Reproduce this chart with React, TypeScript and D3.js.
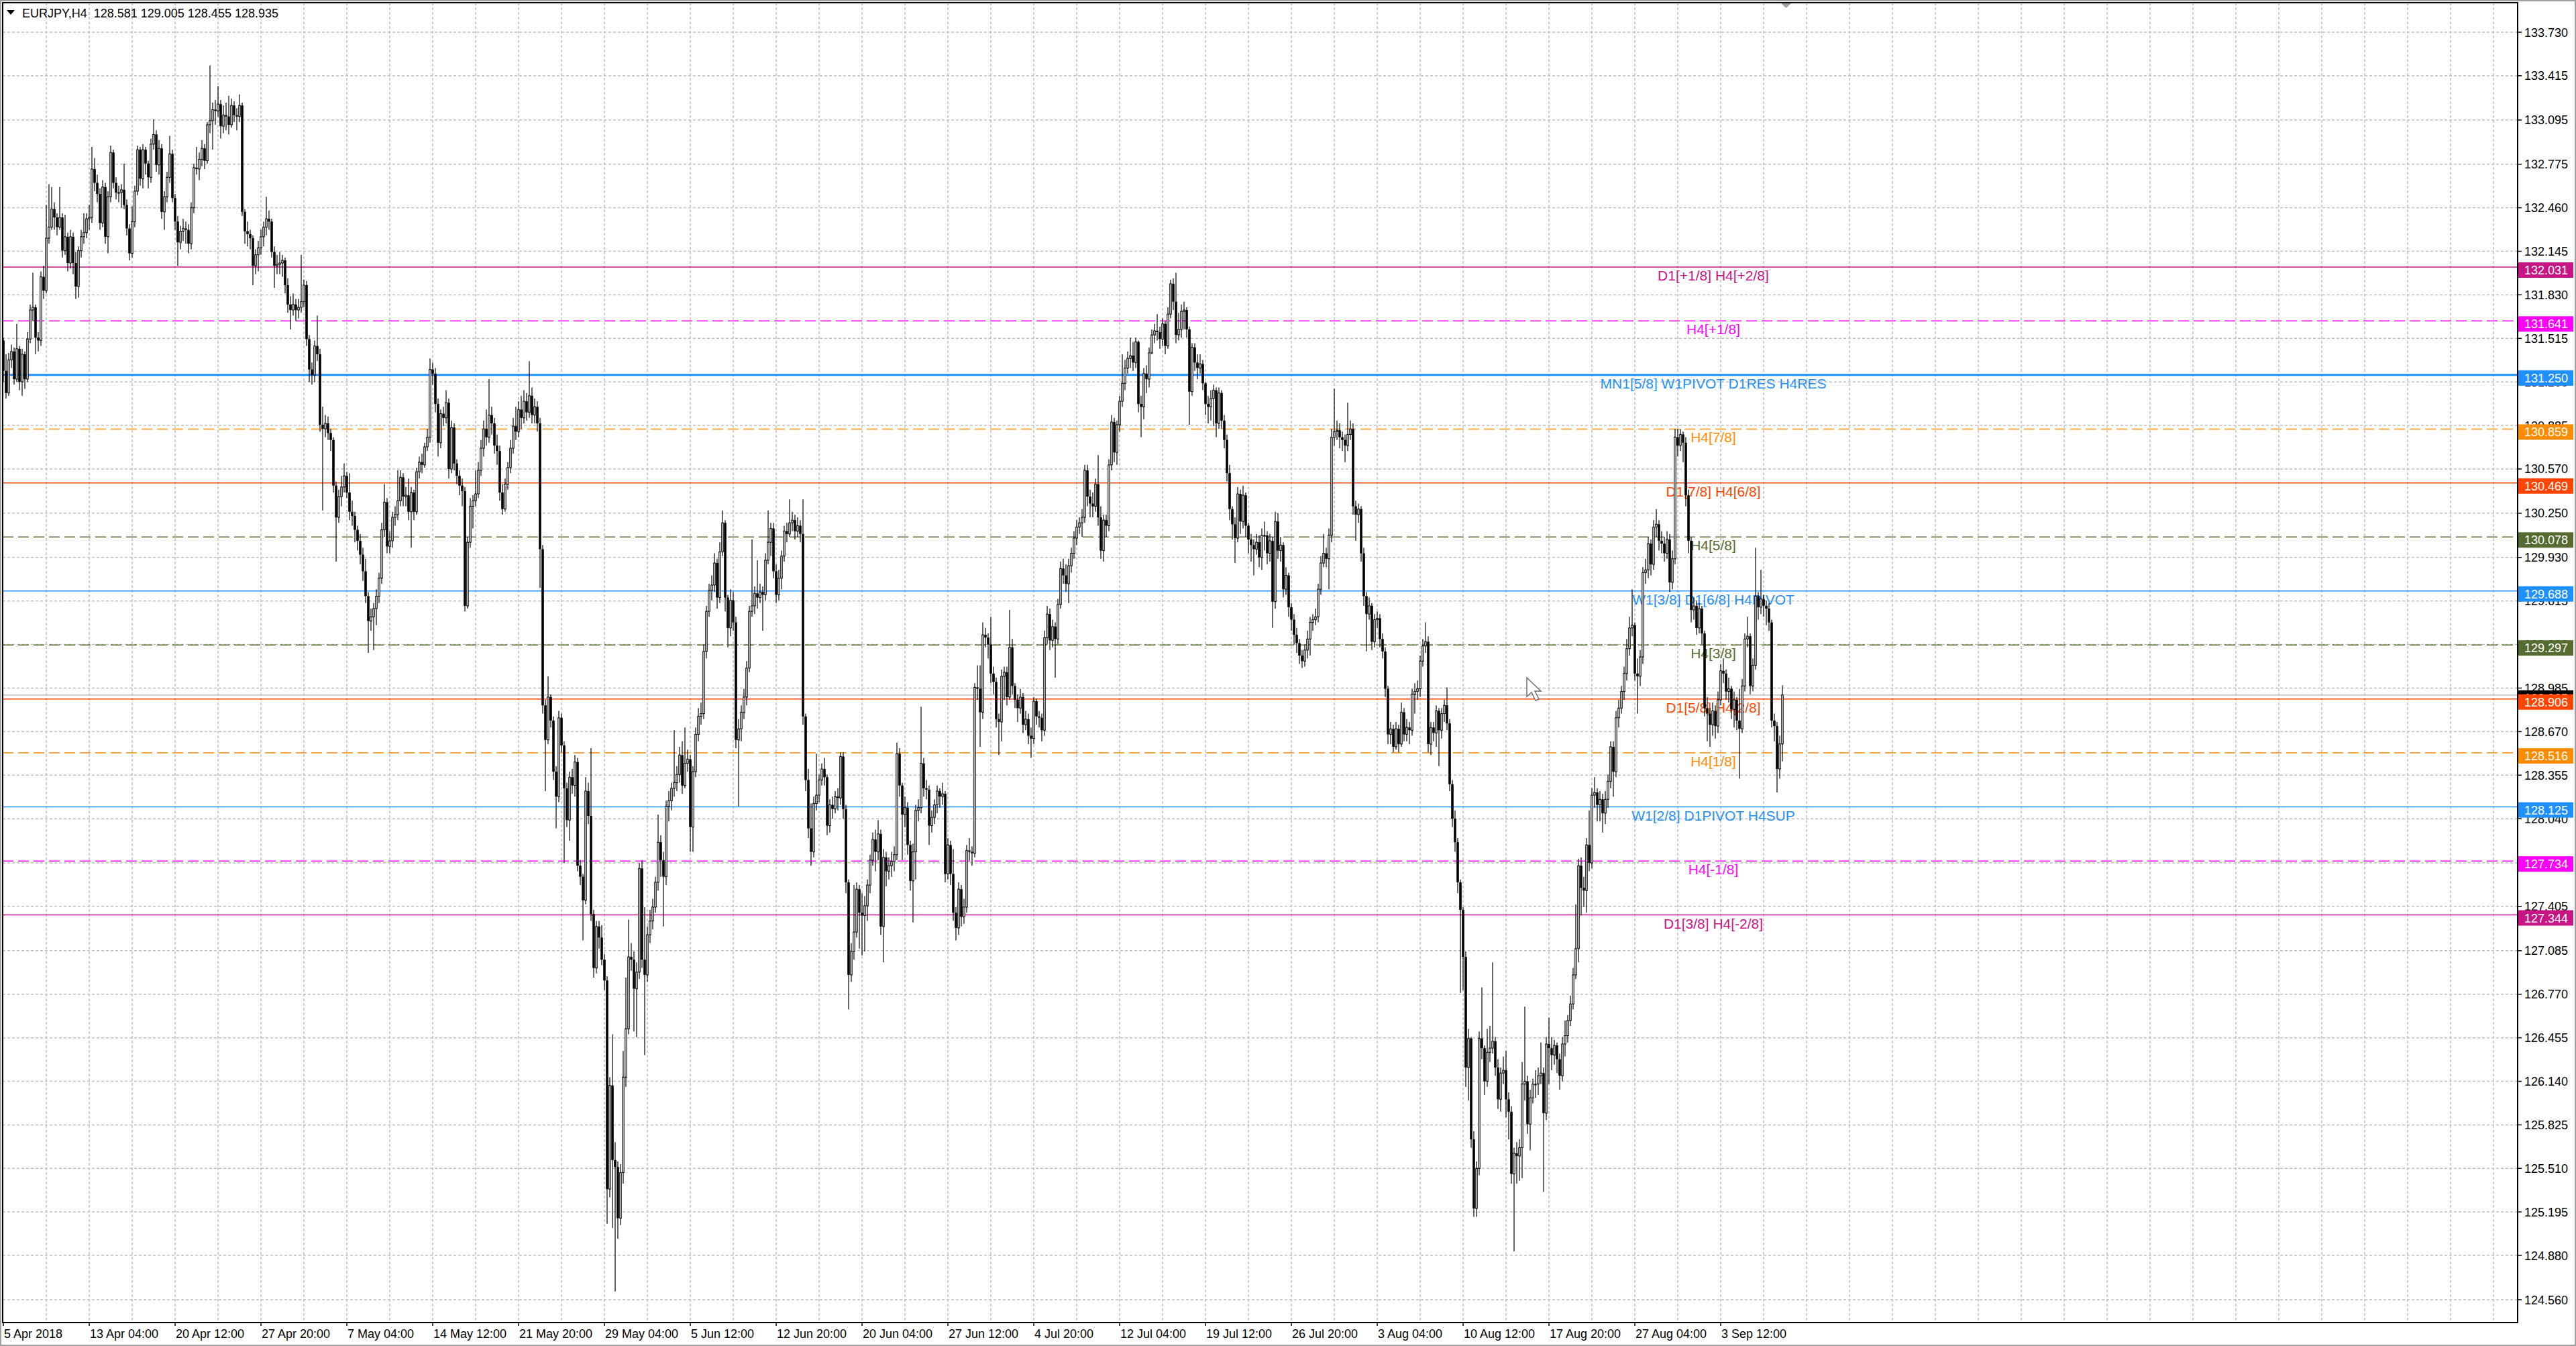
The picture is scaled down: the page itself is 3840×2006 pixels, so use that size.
import * as d3 from "d3";

// first bar open; every later bar opens at the previous close
const FIRST_OPEN = 131.5;

// [close, high, low] per H4 bar, 5 Apr 2018 20:00 onward
const BARS: [number, number, number][] = [
  // 0 - 5 Apr 20:00
  [131.28, 131.52, 131.2], [131.12, 131.4, 131.08], [131.36, 131.41, 131.1], [131.42, 131.47, 131.3],
  [131.22, 131.45, 131.18], [131.44, 131.62, 131.2], [131.2, 131.46, 131.14], [131.4, 131.44, 131.1],
  [131.22, 131.42, 131.15], [131.51, 131.56, 131.2], [131.72, 131.76, 131.48], [131.74, 131.99, 131.64],
  [131.52, 131.76, 131.4], [131.5, 131.56, 131.42], [131.96, 132.0, 131.46], [131.86, 132.04, 131.8],
  [132.24, 132.48, 131.84], [132.32, 132.63, 132.2], [132.45, 132.61, 132.3], [132.39, 132.5, 132.3],
  [132.32, 132.42, 132.26], [132.39, 132.61, 132.3], [132.15, 132.42, 132.1], [132.25, 132.41, 132.12],
  [132.06, 132.28, 132.0], [132.25, 132.3, 132.02], [132.06, 132.28, 131.98], [131.89, 132.14, 131.8],
  [132.15, 132.18, 131.81], [132.25, 132.3, 132.1], [132.28, 132.42, 132.2], [132.38, 132.42, 132.24],
  // 32 - 13 Apr 04:00
  [132.39, 132.48, 132.3], [132.74, 132.9, 132.35], [132.64, 132.82, 132.58], [132.56, 132.7, 132.5],
  [132.35, 132.6, 132.3], [132.61, 132.66, 132.32], [132.25, 132.64, 132.2], [132.54, 132.58, 132.13],
  [132.86, 132.91, 132.5], [132.64, 132.88, 132.6], [132.57, 132.68, 132.52], [132.57, 132.62, 132.5],
  [132.59, 132.63, 132.46], [132.48, 132.78, 132.45], [132.31, 132.52, 132.26], [132.13, 132.34, 132.08],
  [132.36, 132.47, 132.1], [132.58, 132.62, 132.32], [132.88, 132.91, 132.55], [132.67, 132.9, 132.62],
  [132.88, 132.92, 132.6], [132.78, 132.9, 132.7], [132.68, 132.8, 132.6], [132.92, 132.96, 132.64],
  [132.99, 133.1, 132.88], [132.77, 133.02, 132.72], [132.89, 132.95, 132.7], [132.43, 132.92, 132.38],
  [132.54, 132.58, 132.3], [132.68, 132.72, 132.5], [132.85, 132.98, 132.64], [132.53, 132.88, 132.5],
  // 64 - 20 Apr 12:00
  [132.36, 132.56, 132.3], [132.21, 132.4, 132.04], [132.29, 132.33, 132.16], [132.31, 132.38, 132.22],
  [132.3, 132.36, 132.2], [132.2, 132.34, 132.13], [132.46, 132.5, 132.16], [132.75, 132.78, 132.42],
  [132.74, 132.9, 132.7], [132.81, 132.86, 132.66], [132.89, 132.95, 132.76], [132.8, 132.92, 132.74],
  [133.06, 133.08, 132.78], [133.09, 133.49, 133.0], [133.17, 133.22, 132.88], [133.16, 133.24, 133.06],
  [133.21, 133.34, 133.12], [133.05, 133.24, 132.96], [133.13, 133.2, 133.0], [133.12, 133.22, 133.02],
  [133.06, 133.27, 132.99], [133.2, 133.25, 133.04], [133.13, 133.23, 133.08], [133.12, 133.18, 133.02],
  [133.2, 133.28, 133.08], [132.43, 133.22, 132.4], [132.29, 132.45, 132.2], [132.27, 132.36, 132.18],
  [132.24, 132.3, 132.16], [132.04, 132.26, 131.9], [132.12, 132.16, 131.98], [132.17, 132.22, 132.0],
  // 96 - 27 Apr 20:00
  [132.25, 132.3, 132.12], [132.32, 132.36, 132.18], [132.38, 132.54, 132.26], [132.36, 132.44, 132.3],
  [132.14, 132.38, 132.1], [132.04, 132.18, 131.88], [132.05, 132.12, 131.98], [132.06, 132.14, 131.98],
  [132.08, 132.12, 131.96], [131.9, 132.1, 131.84], [131.76, 131.95, 131.7], [131.72, 131.82, 131.58],
  [131.76, 131.84, 131.68], [131.72, 131.8, 131.64], [131.74, 131.8, 131.66], [131.78, 132.12, 131.7],
  [131.9, 131.94, 131.74], [131.51, 131.93, 131.46], [131.29, 131.54, 131.2], [131.25, 131.34, 131.18],
  [131.46, 131.5, 131.2], [131.4, 131.68, 131.35], [130.89, 131.44, 130.84], [130.86, 131.02, 130.27],
  [130.9, 130.96, 130.8], [130.83, 130.95, 130.78], [130.78, 130.86, 130.7], [130.45, 130.8, 130.4],
  [130.22, 130.48, 129.9], [130.37, 130.42, 130.18], [130.44, 130.52, 130.3], [130.52, 130.61, 130.4],
  // 128 - 7 May 04:00
  [130.4, 130.55, 130.36], [130.26, 130.54, 130.2], [130.23, 130.34, 130.16], [130.13, 130.26, 130.04],
  [130.05, 130.16, 129.98], [129.95, 130.1, 129.88], [129.83, 130.0, 129.76], [129.65, 129.92, 129.6],
  [129.47, 129.68, 129.24], [129.5, 129.56, 129.4], [129.56, 129.6, 129.26], [129.65, 129.7, 129.44],
  [129.78, 129.82, 129.6], [130.13, 130.18, 129.74], [130.33, 130.46, 130.08], [130.01, 130.36, 129.96],
  [130.05, 130.12, 129.96], [130.22, 130.26, 130.0], [130.24, 130.3, 130.16], [130.34, 130.56, 130.2],
  [130.51, 130.56, 130.3], [130.37, 130.54, 130.3], [130.38, 130.44, 130.3], [130.26, 130.5, 130.2],
  [130.4, 130.44, 130.0], [130.26, 130.42, 130.2], [130.55, 130.58, 130.24], [130.62, 130.66, 130.5],
  [130.6, 130.68, 130.54], [130.73, 130.76, 130.58], [130.8, 130.86, 130.7], [131.29, 131.37, 130.76],
  // 160 - 14 May 12:00
  [131.26, 131.34, 131.18], [131.04, 131.3, 130.98], [130.76, 131.08, 130.66], [130.97, 131.0, 130.72],
  [130.94, 131.02, 130.88], [131.05, 131.14, 130.9], [130.57, 131.08, 130.5], [130.87, 130.92, 130.54],
  [130.61, 130.9, 130.56], [130.52, 130.64, 130.46], [130.45, 130.56, 130.38], [130.41, 130.5, 130.3],
  [129.58, 130.44, 129.54], [130.04, 130.08, 129.56], [130.3, 130.36, 130.0], [130.34, 130.38, 130.14],
  [130.39, 130.56, 130.3], [130.56, 130.62, 130.36], [130.72, 130.78, 130.52], [130.86, 130.92, 130.66],
  [130.8, 131.0, 130.74], [130.96, 131.22, 130.76], [130.9, 131.02, 130.82], [130.74, 130.94, 130.68],
  [130.7, 130.82, 130.6], [130.4, 130.74, 130.34], [130.28, 130.46, 130.24], [130.46, 130.5, 130.26],
  [130.58, 130.62, 130.42], [130.72, 130.78, 130.54], [130.88, 130.94, 130.68], [130.84, 131.02, 130.78],
  // 192 - 21 May 20:00
  [131.0, 131.06, 130.8], [130.94, 131.1, 130.86], [131.06, 131.14, 130.9], [130.98, 131.12, 130.92],
  [131.1, 131.35, 130.94], [130.96, 131.16, 130.9], [131.02, 131.08, 130.9], [130.9, 131.06, 130.84],
  [129.99, 130.94, 129.71], [128.86, 130.02, 128.8], [128.61, 128.9, 128.24], [128.92, 129.07, 128.58],
  [128.75, 128.94, 128.7], [128.38, 128.78, 128.32], [128.2, 128.42, 127.97], [128.77, 128.82, 128.16],
  [128.57, 128.8, 128.52], [128.26, 128.6, 127.72], [128.03, 128.3, 127.98], [128.34, 128.38, 127.88],
  [128.28, 128.4, 128.22], [128.45, 128.5, 128.2], [127.7, 128.48, 127.66], [127.62, 127.74, 127.56],
  [127.45, 127.64, 127.16], [128.24, 128.34, 127.42], [128.06, 128.3, 128.0], [127.35, 128.55, 127.3],
  [126.96, 127.38, 126.89], [127.26, 127.3, 126.92], [127.18, 127.3, 127.1], [127.02, 127.27, 126.98],
  // 224 - 29 May 04:00
  [126.87, 127.06, 126.8], [125.36, 126.9, 125.11], [126.11, 126.17, 125.3], [125.57, 126.48, 125.08],
  [125.52, 125.7, 124.62], [125.15, 125.56, 125.0], [125.48, 125.54, 125.1], [126.17, 126.36, 125.4],
  [126.52, 126.89, 126.1], [127.04, 127.31, 126.48], [127.02, 127.14, 126.94], [126.81, 127.08, 126.5],
  [126.93, 127.0, 126.46], [127.68, 127.72, 126.88], [127.02, 127.74, 126.96], [126.91, 127.4, 126.33],
  [127.2, 127.26, 126.86], [127.3, 127.38, 127.14], [127.4, 127.46, 127.24], [127.58, 127.62, 127.36],
  [127.87, 128.07, 127.52], [127.74, 127.92, 127.62], [127.62, 127.8, 127.26], [128.13, 128.17, 127.56],
  [128.17, 128.24, 128.02], [128.26, 128.3, 128.1], [128.3, 128.68, 128.2], [128.36, 128.42, 128.24],
  [128.5, 128.56, 128.3], [128.28, 128.6, 128.22], [128.44, 128.7, 128.26], [128.47, 128.54, 128.38],
  // 256 - 5 Jun 12:00
  [127.98, 128.5, 127.8], [128.38, 128.42, 127.8], [128.65, 128.7, 128.34], [128.78, 128.84, 128.6],
  [128.8, 128.88, 128.72], [129.25, 129.3, 128.76], [129.54, 129.58, 129.2], [129.69, 129.74, 129.5],
  [129.73, 129.8, 129.62], [129.89, 129.96, 129.68], [129.64, 129.92, 129.56], [129.97, 130.04, 129.6],
  [130.18, 130.27, 129.94], [129.64, 130.2, 129.54], [129.42, 129.66, 129.28], [129.62, 129.7, 129.36],
  [129.46, 129.68, 129.4], [128.61, 129.5, 128.55], [128.69, 128.76, 128.13], [128.81, 128.86, 128.6],
  [128.92, 128.98, 128.76], [129.13, 129.18, 128.86], [129.54, 129.58, 129.1], [129.58, 130.06, 129.5],
  [129.67, 129.72, 129.52], [129.64, 129.91, 129.56], [129.68, 129.74, 129.6], [129.66, 129.72, 129.4],
  [129.91, 129.96, 129.62], [130.04, 130.27, 129.88], [130.14, 130.18, 129.94], [129.83, 130.18, 129.78],
  // 288 - 12 Jun 20:00
  [129.66, 129.88, 129.6], [129.78, 129.84, 129.62], [129.94, 129.98, 129.7], [130.12, 130.16, 129.9],
  [130.1, 130.18, 130.04], [130.18, 130.35, 130.08], [130.2, 130.26, 130.12], [130.12, 130.24, 130.06],
  [130.16, 130.22, 130.08], [130.1, 130.2, 130.04], [128.78, 130.35, 128.72], [128.32, 128.8, 128.24],
  [127.97, 128.4, 127.9], [127.8, 128.15, 127.7], [128.15, 128.2, 127.76], [128.21, 128.51, 128.1],
  [128.32, 128.36, 128.16], [128.4, 128.44, 128.28], [128.34, 128.48, 128.28], [127.99, 128.36, 127.92],
  [128.14, 128.18, 127.94], [128.11, 128.2, 128.04], [128.2, 128.24, 128.08], [128.19, 128.26, 128.1],
  [128.49, 128.52, 128.14], [128.11, 128.52, 128.04], [127.58, 128.14, 127.5], [126.91, 127.6, 126.66],
  [127.08, 127.14, 126.86], [127.22, 127.56, 127.02], [127.53, 127.58, 127.18], [127.36, 127.56, 127.1],
  // 320 - 20 Jun 04:00
  [127.34, 127.5, 127.05], [127.41, 127.48, 127.08], [127.56, 127.6, 127.3], [127.74, 127.78, 127.5],
  [127.89, 127.94, 127.7], [127.8, 127.96, 127.66], [127.93, 128.03, 127.74], [127.26, 127.96, 127.2],
  [127.76, 127.82, 127.0], [127.66, 127.8, 127.55], [127.7, 127.76, 127.6], [127.73, 127.8, 127.62],
  [127.78, 127.84, 127.66], [128.51, 128.59, 127.74], [128.28, 128.55, 128.2], [128.07, 128.3, 127.74],
  [128.12, 128.2, 127.98], [127.85, 128.16, 127.78], [127.59, 127.88, 127.52], [127.8, 127.86, 127.29],
  [128.1, 128.14, 127.6], [128.12, 128.18, 128.02], [128.44, 128.85, 128.08], [128.26, 128.48, 128.2],
  [128.25, 128.32, 128.18], [127.99, 128.28, 127.85], [128.05, 128.1, 127.94], [128.14, 128.18, 128.0],
  [128.24, 128.28, 128.08], [128.2, 128.26, 128.12], [128.22, 128.3, 128.14], [127.64, 128.24, 127.58],
  // 352 - 27 Jun 12:00
  [127.85, 127.9, 127.6], [127.64, 127.88, 127.56], [127.36, 127.82, 127.3], [127.25, 127.4, 127.16],
  [127.53, 127.58, 127.2], [127.33, 127.56, 127.26], [127.4, 127.46, 127.28], [127.81, 127.85, 127.36],
  [127.8, 127.9, 127.74], [127.79, 127.84, 127.7], [128.99, 129.02, 127.76], [128.98, 129.15, 128.9],
  [128.81, 129.15, 128.56], [129.37, 129.46, 128.76], [129.35, 129.42, 129.28], [129.3, 129.38, 129.2],
  [129.09, 129.5, 129.02], [129.03, 129.14, 128.94], [128.76, 129.06, 128.7], [128.74, 128.8, 128.5],
  [129.07, 129.12, 128.6], [129.1, 129.14, 128.9], [128.92, 129.14, 128.86], [129.28, 129.55, 128.9],
  [129.0, 129.34, 128.94], [128.9, 129.02, 128.84], [128.84, 128.94, 128.74], [128.92, 128.98, 128.8],
  [128.72, 128.95, 128.66], [128.76, 128.82, 128.68], [128.64, 128.8, 128.58], [128.62, 128.7, 128.48],
  // 384 - 4 Jul 20:00
  [128.89, 128.92, 128.58], [128.78, 128.91, 128.72], [128.77, 128.82, 128.7], [128.68, 128.8, 128.6],
  [129.35, 129.4, 128.64], [129.52, 129.58, 129.3], [129.33, 129.56, 129.26], [129.43, 129.48, 129.28],
  [129.34, 129.46, 129.06], [129.59, 129.63, 129.3], [129.85, 129.9, 129.56], [129.8, 129.92, 129.74],
  [129.74, 129.88, 129.68], [129.87, 129.92, 129.6], [129.96, 130.0, 129.82], [130.07, 130.12, 129.92],
  [130.15, 130.2, 130.02], [130.18, 130.22, 130.1], [130.22, 130.28, 130.08], [130.56, 130.6, 130.18],
  [130.37, 130.6, 130.3], [130.32, 130.42, 130.22], [130.3, 130.4, 130.22], [130.46, 130.5, 130.26],
  [130.22, 130.67, 130.16], [129.98, 130.3, 129.92], [130.2, 130.24, 129.9], [130.16, 130.24, 130.08],
  [130.6, 130.64, 130.12], [130.91, 130.96, 130.56], [130.69, 130.94, 130.62], [130.89, 130.92, 130.6],
  // 416 - 12 Jul 04:00
  [131.06, 131.1, 130.84], [131.19, 131.4, 131.02], [131.3, 131.36, 131.14], [131.37, 131.42, 131.26],
  [131.39, 131.52, 131.3], [131.34, 131.49, 131.28], [131.49, 131.52, 131.3], [131.04, 131.5, 130.98],
  [131.02, 131.1, 130.8], [131.26, 131.3, 130.93], [131.22, 131.32, 131.12], [131.41, 131.45, 131.16],
  [131.54, 131.58, 131.4], [131.57, 131.62, 131.48], [131.56, 131.69, 131.5], [131.51, 131.6, 131.44],
  [131.62, 131.66, 131.46], [131.46, 131.64, 131.4], [131.69, 131.74, 131.44], [131.91, 131.94, 131.66],
  [131.78, 131.95, 131.72], [131.54, 131.99, 131.48], [131.58, 131.7, 131.5], [131.71, 131.76, 131.52],
  [131.72, 131.78, 131.58], [131.58, 131.74, 131.52], [131.13, 131.6, 130.89], [131.45, 131.48, 131.1],
  [131.34, 131.48, 131.28], [131.3, 131.4, 131.22], [131.33, 131.4, 131.26], [131.19, 131.36, 131.14],
  // 448 - 19 Jul 12:00
  [131.04, 131.2, 130.96], [131.02, 131.1, 130.9], [131.08, 131.14, 130.92], [131.14, 131.18, 130.88],
  [130.9, 131.16, 130.8], [131.12, 131.16, 130.86], [130.92, 131.14, 130.86], [130.78, 130.96, 130.72],
  [130.54, 130.82, 130.48], [130.28, 130.6, 130.2], [130.17, 130.3, 130.06], [130.07, 130.22, 129.89],
  [130.39, 130.44, 130.04], [130.19, 130.42, 130.1], [130.38, 130.45, 130.14], [130.16, 130.4, 130.08],
  [130.06, 130.18, 129.96], [130.02, 130.1, 129.9], [129.99, 130.06, 129.8], [130.04, 130.1, 129.95],
  [129.93, 130.09, 129.86], [130.09, 130.14, 129.84], [130.09, 130.19, 129.98], [129.96, 130.12, 129.88],
  [130.05, 130.1, 129.9], [129.61, 130.08, 129.42], [130.19, 130.26, 129.56], [129.98, 130.25, 129.92],
  [130.02, 130.08, 129.9], [129.7, 130.04, 129.64], [129.8, 129.86, 129.66], [129.57, 129.82, 129.5],
  // 480 - 26 Jul 20:00
  [129.48, 129.6, 129.4], [129.37, 129.52, 129.3], [129.31, 129.42, 129.24], [129.22, 129.34, 129.16],
  [129.18, 129.26, 129.13], [129.26, 129.3, 129.14], [129.34, 129.4, 129.2], [129.46, 129.5, 129.22],
  [129.48, 129.52, 129.4], [129.5, 129.56, 129.44], [129.7, 129.74, 129.46], [129.89, 129.94, 129.66],
  [129.96, 130.1, 129.86], [129.92, 130.0, 129.86], [130.09, 130.14, 129.7], [130.8, 130.86, 130.04],
  [130.84, 131.15, 130.74], [130.85, 130.92, 130.78], [130.8, 130.9, 130.72], [130.78, 130.84, 130.7],
  [130.74, 130.82, 130.62], [130.82, 131.05, 130.7], [130.86, 130.92, 130.78], [130.3, 130.9, 130.24],
  [130.24, 130.34, 130.05], [130.28, 130.32, 130.18], [129.96, 130.3, 129.9], [129.65, 130.0, 129.58],
  [129.52, 129.68, 129.25], [129.58, 129.64, 129.48], [129.32, 129.6, 129.26], [129.48, 129.52, 129.28],
  // 512 - 3 Aug 04:00
  [129.49, 129.54, 129.42], [129.34, 129.52, 129.28], [129.25, 129.38, 129.2], [128.98, 129.28, 128.92],
  [128.65, 129.0, 128.58], [128.69, 128.74, 128.58], [128.56, 128.72, 128.52], [128.69, 128.74, 128.54],
  [128.58, 128.72, 128.52], [128.81, 128.88, 128.56], [128.65, 128.84, 128.6], [128.7, 128.76, 128.6],
  [128.68, 128.74, 128.58], [128.94, 128.98, 128.64], [128.96, 129.02, 128.8], [128.98, 129.04, 128.9],
  [129.18, 129.22, 128.92], [129.29, 129.34, 129.14], [129.32, 129.46, 129.24], [128.58, 129.36, 128.52],
  [128.7, 128.74, 128.5], [128.66, 128.74, 128.6], [128.82, 128.86, 128.56], [128.68, 128.84, 128.42],
  [128.8, 128.84, 128.62], [128.86, 128.9, 128.74], [128.73, 128.99, 128.68], [128.29, 128.76, 128.24],
  [128.04, 128.32, 127.98], [127.87, 128.1, 127.8], [127.58, 127.9, 127.5], [127.38, 127.6, 126.78],
  // 544 - 10 Aug 12:00
  [127.04, 127.4, 126.8], [126.24, 127.08, 126.1], [126.45, 126.52, 126.0], [125.72, 126.46, 125.66],
  [125.22, 125.78, 125.16], [125.51, 125.56, 125.16], [126.45, 126.5, 125.46], [126.38, 126.82, 126.3],
  [126.14, 126.4, 126.04], [126.35, 126.52, 126.1], [126.38, 126.54, 126.28], [126.43, 127.0, 126.34],
  [126.24, 126.46, 126.18], [126.01, 126.3, 125.94], [126.2, 126.24, 125.92], [126.22, 126.32, 126.12],
  [126.01, 126.36, 125.88], [125.92, 126.06, 125.72], [125.47, 125.96, 125.4], [125.62, 125.66, 124.91],
  [125.6, 125.7, 125.4], [125.66, 125.72, 125.42], [126.12, 126.28, 125.44], [126.14, 126.68, 126.0],
  [125.83, 126.18, 125.76], [126.02, 126.08, 125.64], [126.12, 126.16, 125.98], [126.12, 126.22, 126.02],
  [126.18, 126.24, 126.04], [126.2, 126.42, 126.12], [125.91, 126.24, 125.34], [126.41, 126.46, 125.86],
  // 576 - 17 Aug 20:00
  [126.38, 126.6, 126.12], [126.33, 126.46, 126.22], [126.4, 126.44, 126.26], [126.3, 126.42, 126.2],
  [126.18, 126.34, 126.08], [126.41, 126.46, 126.14], [126.47, 126.58, 126.32], [126.58, 126.62, 126.42],
  [126.7, 126.76, 126.54], [126.91, 126.96, 126.66], [127.1, 127.42, 126.88], [127.7, 127.75, 127.0],
  [127.54, 127.76, 127.34], [127.52, 127.62, 127.4], [127.85, 127.9, 127.36], [127.72, 128.1, 127.66],
  [128.21, 128.26, 127.68], [128.23, 128.34, 128.12], [128.14, 128.26, 128.02], [128.18, 128.24, 128.02],
  [128.08, 128.22, 127.94], [128.18, 128.24, 128.0], [128.31, 128.36, 128.12], [128.56, 128.6, 128.26],
  [128.38, 128.6, 128.2], [128.77, 128.82, 128.34], [128.84, 128.9, 128.7], [128.96, 129.0, 128.8],
  [129.09, 129.14, 128.9], [129.27, 129.34, 129.04], [129.42, 129.5, 129.22], [129.44, 129.7, 129.36],
  // 608 - 27 Aug 04:00
  [129.09, 129.46, 129.04], [129.07, 129.2, 128.8], [129.21, 129.26, 129.0], [129.82, 129.86, 129.16],
  [129.84, 129.92, 129.74], [130.03, 130.08, 129.78], [129.88, 130.06, 129.8], [130.15, 130.2, 129.84],
  [130.17, 130.28, 130.08], [130.05, 130.2, 129.98], [130.03, 130.12, 129.96], [129.96, 130.08, 129.9],
  [130.06, 130.12, 129.92], [129.75, 130.1, 129.68], [129.92, 129.98, 129.7], [130.8, 130.86, 129.88],
  [130.74, 130.86, 130.66], [130.82, 130.86, 130.7], [130.76, 130.84, 130.62], [130.38, 130.8, 130.3],
  [130.05, 130.42, 129.96], [129.55, 130.08, 129.46], [129.58, 129.64, 129.48], [129.42, 129.62, 129.37],
  [129.56, 129.6, 129.38], [129.38, 129.58, 129.3], [128.84, 129.4, 128.78], [128.8, 128.92, 128.6],
  [128.72, 128.84, 128.56], [128.82, 128.88, 128.64], [128.71, 128.86, 128.62], [128.9, 128.96, 128.66],
  // 640 - 3 Sep 12:00
  [129.11, 129.16, 128.86], [129.09, 129.2, 129.02], [128.96, 129.12, 128.9], [128.98, 129.06, 128.88],
  [128.83, 129.0, 128.76], [128.9, 128.96, 128.7], [128.75, 128.92, 128.68], [128.69, 128.98, 128.33],
  [129.0, 129.05, 128.66], [129.34, 129.38, 128.96], [129.36, 129.5, 129.28], [129.0, 129.38, 128.94],
  [129.15, 129.2, 128.96], [129.65, 130.0, 129.12], [129.57, 129.68, 129.48], [129.63, 129.84, 129.52],
  [129.58, 129.66, 129.5], [129.56, 129.62, 129.44], [129.46, 129.6, 129.4], [128.75, 129.48, 128.7],
  [128.71, 128.8, 128.6], [128.4, 128.74, 128.23], [128.581, 128.64, 128.33], [128.935, 129.005, 128.455],
];

const PRICE_TICKS = [
  133.73, 133.415, 133.095, 132.775, 132.46, 132.145, 131.83, 131.515, 131.2, 130.885,
  130.57, 130.25, 129.93, 129.615, 129.3, 128.985, 128.67, 128.355, 128.04, 127.72,
  127.405, 127.085, 126.77, 126.455, 126.14, 125.825, 125.51, 125.195, 124.88, 124.56,
];

const DATE_LABELS = [
  "5 Apr 2018", "13 Apr 04:00", "20 Apr 12:00", "27 Apr 20:00", "7 May 04:00", "14 May 12:00",
  "21 May 20:00", "29 May 04:00", "5 Jun 12:00", "12 Jun 20:00", "20 Jun 04:00", "27 Jun 12:00",
  "4 Jul 20:00", "12 Jul 04:00", "19 Jul 12:00", "26 Jul 20:00", "3 Aug 04:00", "10 Aug 12:00",
  "17 Aug 20:00", "27 Aug 04:00", "3 Sep 12:00",
];

const LEVEL_PRICES = [
  132.031, 131.641, 131.25, 130.859, 130.469, 130.078, 129.688,
  129.297, 128.906, 128.516, 128.125, 127.734, 127.344,
];
const LEVEL_NAMES = [
  "D1[+1/8] H4[+2/8]", "H4[+1/8]", "MN1[5/8] W1PIVOT D1RES H4RES", "H4[7/8]",
  "D1[7/8] H4[6/8]", "H4[5/8]", "W1[3/8] D1[6/8] H4PIVOT", "H4[3/8]",
  "D1[5/8] H4[2/8]", "H4[1/8]", "W1[2/8] D1PIVOT H4SUP", "H4[-1/8]", "D1[3/8] H4[-2/8]",
];
const LEVEL_COLORS = [
  "#C71585", "#FF00FF", "#1E90FF", "#FF8C00", "#FF4500", "#556B2F", "#1E90FF",
  "#556B2F", "#FF4500", "#FF8C00", "#1E90FF", "#FF00FF", "#C71585",
];
const LEVEL_DASHED = [false, true, false, true, false, true, false, true, false, true, false, true, false];

const SYMBOL = "EURJPY,H4";
const LAST_OHLC = [128.581, 129.005, 128.455, 128.935];
const BID = 128.935;

export default function App() {
  const W = 3840;
  const H = 2006;
  const left = 4;
  const top = 4;
  const right = 3753;
  const bottom = 1971;
  const font = "'Liberation Sans', Arial, sans-serif";

  const y = d3.scaleLinear().domain([124.56, 133.73]).range([1937, 48]);
  const x = d3.scaleLinear().domain([0, 1]).range([5, 9]);

  const candles = BARS.map(([c, h, l], i) => {
    const o = i === 0 ? FIRST_OPEN : BARS[i - 1][0];
    return { i, o, c, h: Math.max(h, o, c), l: Math.min(l, o, c) };
  });

  const gridX = d3.range(1, 59).map((k) => x(16 * k));

  return (
    <svg
      width={W}
      height={H}
      viewBox={`0 0 ${W} ${H}`}
      style={{ position: "absolute", left: 0, top: 0, display: "block", background: "#fff" }}
    >
      <rect x={0} y={0} width={W} height={H} fill="#fff" />
      <rect x={1} y={1} width={W - 2} height={H - 2} fill="none" stroke="#a0a0a0" strokeWidth={2} />

      {/* grid */}
      {PRICE_TICKS.map((p) => (
        <line key={"gy" + p} x1={left} x2={right} y1={y(p)} y2={y(p)} stroke="#c0c0c0" strokeWidth={1.5} strokeDasharray="4 3" />
      ))}
      {gridX.map((gx) => (
        <line key={"gx" + gx} x1={gx} x2={gx} y1={top} y2={bottom} stroke="#c0c0c0" strokeWidth={1.5} strokeDasharray="4 3" />
      ))}

      {/* bid line */}
      <line x1={left} x2={right} y1={y(BID)} y2={y(BID)} stroke="#c0c0c0" strokeWidth={1.5} />

      {/* level lines and labels */}
      {LEVEL_PRICES.map((p, k) => (
        <g key={"lv" + k}>
          <line
            x1={left}
            x2={right}
            y1={y(p)}
            y2={y(p)}
            stroke={LEVEL_COLORS[k]}
            strokeWidth={k === 2 ? 3 : 1.5}
            strokeDasharray={LEVEL_DASHED[k] ? "16 7" : undefined}
          />
          <text x={2554} y={y(p) + 20} textAnchor="middle" fontFamily={font} fontSize={21} fill={LEVEL_COLORS[k]}>
            {LEVEL_NAMES[k]}
          </text>
        </g>
      ))}

      {/* candles */}
      {candles.map((d) => {
        const cx = x(d.i);
        const up = d.c >= d.o;
        const yTop = y(Math.max(d.o, d.c));
        const yBot = y(Math.min(d.o, d.c));
        const bh = Math.max(1.2, yBot - yTop);
        return (
          <g key={"c" + d.i}>
            <line x1={cx} x2={cx} y1={y(d.h)} y2={y(d.l)} stroke="#000" strokeWidth={1.2} />
            {up ? (
              <rect x={cx - 1.2} y={yTop} width={2.4} height={bh} fill="#fff" stroke="#000" strokeWidth={1.1} />
            ) : (
              <rect x={cx - 1.8} y={yTop} width={3.6} height={bh} fill="#000" />
            )}
          </g>
        );
      })}

      {/* mouse cursor */}
      <polygon
        points="2276,1010 2276,1038 2283,1032 2289,1044 2294,1042 2288,1030 2297,1030"
        fill="#fff"
        stroke="#707070"
        strokeWidth={1.5}
      />

      {/* plot frame */}
      <rect x={left} y={top} width={right - left} height={bottom - top} fill="none" stroke="#000" strokeWidth={2} />
      <polygon points="2655,5 2670,5 2662.5,12" fill="#a0a0a0" />

      {/* header */}
      <polygon points="10,15 22,15 16,22" fill="#000" />
      <text x={33} y={26} fontFamily={font} fontSize={18} fill="#000" style={{ whiteSpace: "pre" }}>
        {SYMBOL + "  " + LAST_OHLC.map((v) => v.toFixed(3)).join(" ")}
      </text>

      {/* price axis */}
      {PRICE_TICKS.map((p) => (
        <g key={"pt" + p}>
          <line x1={right} x2={right + 6} y1={y(p)} y2={y(p)} stroke="#000" strokeWidth={1.5} />
          <text x={3763} y={y(p) + 6.5} fontFamily={font} fontSize={18} fill="#000">
            {p.toFixed(3)}
          </text>
        </g>
      ))}
      <g>
        <rect x={3754} y={y(BID) + 4.5 - 11.5} width={82} height={23} fill="#000" />
        <text x={3763} y={y(BID) + 4.5 + 6.5} fontFamily={font} fontSize={18} fill="#fff">
          {BID.toFixed(3)}
        </text>
      </g>
      {LEVEL_PRICES.map((p, k) => (
        <g key={"pb" + k}>
          <rect x={3754} y={y(p) + 4.5 - 11.5} width={82} height={23} fill={LEVEL_COLORS[k]} />
          <text x={3763} y={y(p) + 4.5 + 6.5} fontFamily={font} fontSize={18} fill="#fff">
            {p.toFixed(3)}
          </text>
        </g>
      ))}

      {/* time axis */}
      {DATE_LABELS.map((lab, k) => (
        <g key={"dl" + k}>
          <line x1={x(32 * k)} x2={x(32 * k)} y1={bottom} y2={bottom + 5} stroke="#000" strokeWidth={1.5} />
          <text x={x(32 * k) + 1} y={1994} fontFamily={font} fontSize={18} fill="#000">
            {lab}
          </text>
        </g>
      ))}
    </svg>
  );
}
